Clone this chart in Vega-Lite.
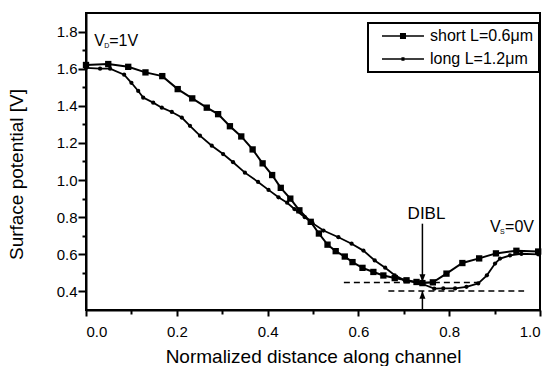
{
  "$schema": "https://vega.github.io/schema/vega-lite/v6.json",
  "width": 454,
  "height": 297,
  "autosize": "none",
  "padding": {"left": 86, "top": 13, "right": 8, "bottom": 56},
  "background": "white",
  "config": {
    "font": "Liberation Sans",
    "view": {"stroke": "black", "strokeWidth": 2},
    "axis": {
      "grid": false,
      "domainColor": "black",
      "domainWidth": 2,
      "tickColor": "black",
      "tickWidth": 2,
      "labelColor": "black",
      "labelFontSize": 15,
      "titleColor": "black",
      "titleFontSize": 19,
      "titleFontWeight": "normal"
    },
    "legend": {"strokeColor": "black", "strokeWidth": 2, "fillColor": "white"}
  },
  "datasets": {
    "curves": [
      {"series": "short L=0.6μm", "x": 0.0, "y": 1.62},
      {"series": "short L=0.6μm", "x": 0.049, "y": 1.625},
      {"series": "short L=0.6μm", "x": 0.093, "y": 1.61},
      {"series": "short L=0.6μm", "x": 0.131, "y": 1.58},
      {"series": "short L=0.6μm", "x": 0.168, "y": 1.56},
      {"series": "short L=0.6μm", "x": 0.202, "y": 1.49},
      {"series": "short L=0.6μm", "x": 0.234, "y": 1.44},
      {"series": "short L=0.6μm", "x": 0.266, "y": 1.39},
      {"series": "short L=0.6μm", "x": 0.291, "y": 1.355},
      {"series": "short L=0.6μm", "x": 0.317, "y": 1.29},
      {"series": "short L=0.6μm", "x": 0.342, "y": 1.235},
      {"series": "short L=0.6μm", "x": 0.367, "y": 1.165},
      {"series": "short L=0.6μm", "x": 0.389, "y": 1.09},
      {"series": "short L=0.6μm", "x": 0.41, "y": 1.027},
      {"series": "short L=0.6μm", "x": 0.429, "y": 0.958},
      {"series": "short L=0.6μm", "x": 0.45, "y": 0.9},
      {"series": "short L=0.6μm", "x": 0.47, "y": 0.837},
      {"series": "short L=0.6μm", "x": 0.495, "y": 0.775},
      {"series": "short L=0.6μm", "x": 0.513, "y": 0.712},
      {"series": "short L=0.6μm", "x": 0.532, "y": 0.652},
      {"series": "short L=0.6μm", "x": 0.55, "y": 0.617},
      {"series": "short L=0.6μm", "x": 0.57, "y": 0.588},
      {"series": "short L=0.6μm", "x": 0.587, "y": 0.558},
      {"series": "short L=0.6μm", "x": 0.609, "y": 0.527},
      {"series": "short L=0.6μm", "x": 0.633, "y": 0.505},
      {"series": "short L=0.6μm", "x": 0.655, "y": 0.486},
      {"series": "short L=0.6μm", "x": 0.68, "y": 0.472},
      {"series": "short L=0.6μm", "x": 0.706, "y": 0.46},
      {"series": "short L=0.6μm", "x": 0.728, "y": 0.451},
      {"series": "short L=0.6μm", "x": 0.741, "y": 0.445},
      {"series": "short L=0.6μm", "x": 0.764, "y": 0.449},
      {"series": "short L=0.6μm", "x": 0.794, "y": 0.496},
      {"series": "short L=0.6μm", "x": 0.829, "y": 0.553},
      {"series": "short L=0.6μm", "x": 0.866, "y": 0.578},
      {"series": "short L=0.6μm", "x": 0.903, "y": 0.605},
      {"series": "short L=0.6μm", "x": 0.948, "y": 0.619},
      {"series": "short L=0.6μm", "x": 0.996, "y": 0.615},
      {"series": "long L=1.2μm", "x": 0.0, "y": 1.604},
      {"series": "long L=1.2μm", "x": 0.031, "y": 1.6},
      {"series": "long L=1.2μm", "x": 0.053, "y": 1.6},
      {"series": "long L=1.2μm", "x": 0.084, "y": 1.568},
      {"series": "long L=1.2μm", "x": 0.1, "y": 1.524},
      {"series": "long L=1.2μm", "x": 0.115, "y": 1.48},
      {"series": "long L=1.2μm", "x": 0.126, "y": 1.444},
      {"series": "long L=1.2μm", "x": 0.148, "y": 1.417},
      {"series": "long L=1.2μm", "x": 0.167, "y": 1.39},
      {"series": "long L=1.2μm", "x": 0.189, "y": 1.367},
      {"series": "long L=1.2μm", "x": 0.211, "y": 1.337},
      {"series": "long L=1.2μm", "x": 0.229, "y": 1.292},
      {"series": "long L=1.2μm", "x": 0.251, "y": 1.239},
      {"series": "long L=1.2μm", "x": 0.277, "y": 1.185},
      {"series": "long L=1.2μm", "x": 0.302, "y": 1.14},
      {"series": "long L=1.2μm", "x": 0.324, "y": 1.096},
      {"series": "long L=1.2μm", "x": 0.35, "y": 1.04},
      {"series": "long L=1.2μm", "x": 0.379, "y": 0.99},
      {"series": "long L=1.2μm", "x": 0.402, "y": 0.947},
      {"series": "long L=1.2μm", "x": 0.424, "y": 0.907},
      {"series": "long L=1.2μm", "x": 0.443, "y": 0.878},
      {"series": "long L=1.2μm", "x": 0.459, "y": 0.844},
      {"series": "long L=1.2μm", "x": 0.482, "y": 0.8},
      {"series": "long L=1.2μm", "x": 0.499, "y": 0.768},
      {"series": "long L=1.2μm", "x": 0.523, "y": 0.728},
      {"series": "long L=1.2μm", "x": 0.556, "y": 0.692},
      {"series": "long L=1.2μm", "x": 0.585, "y": 0.657},
      {"series": "long L=1.2μm", "x": 0.611, "y": 0.62},
      {"series": "long L=1.2μm", "x": 0.636, "y": 0.567},
      {"series": "long L=1.2μm", "x": 0.659, "y": 0.528},
      {"series": "long L=1.2μm", "x": 0.68, "y": 0.487},
      {"series": "long L=1.2μm", "x": 0.702, "y": 0.46},
      {"series": "long L=1.2μm", "x": 0.737, "y": 0.444},
      {"series": "long L=1.2μm", "x": 0.767, "y": 0.415},
      {"series": "long L=1.2μm", "x": 0.787, "y": 0.416},
      {"series": "long L=1.2μm", "x": 0.813, "y": 0.416},
      {"series": "long L=1.2μm", "x": 0.838, "y": 0.425},
      {"series": "long L=1.2μm", "x": 0.864, "y": 0.443},
      {"series": "long L=1.2μm", "x": 0.883, "y": 0.487},
      {"series": "long L=1.2μm", "x": 0.901, "y": 0.55},
      {"series": "long L=1.2μm", "x": 0.912, "y": 0.577},
      {"series": "long L=1.2μm", "x": 0.934, "y": 0.594},
      {"series": "long L=1.2μm", "x": 0.959, "y": 0.603},
      {"series": "long L=1.2μm", "x": 0.996, "y": 0.6}
    ],
    "levels": [
      {"level": "upper", "x": 0.568, "y": 0.448},
      {"level": "upper", "x": 0.866, "y": 0.448},
      {"level": "lower", "x": 0.666, "y": 0.402},
      {"level": "lower", "x": 0.965, "y": 0.402}
    ],
    "arrows": [
      {"arrow": "down", "x": 0.741, "y": 0.765, "y2": 0.451},
      {"arrow": "up", "x": 0.741, "y": 0.3, "y2": 0.402}
    ]
  },
  "layer": [
    {
      "data": {"name": "levels"},
      "mark": {"type": "line", "color": "black", "strokeWidth": 1.5, "strokeDash": [6, 4]},
      "encoding": {
        "x": {"field": "x", "type": "quantitative", "scale": {"domain": [0, 1], "nice": false, "zero": false},
          "axis": {"orient": "bottom", "values": [0.1, 0.3, 0.5, 0.7, 0.9], "labels": false, "domain": false, "tickSize": 4, "title": null}},
        "y": {"field": "y", "type": "quantitative", "scale": {"domain": [0.3, 1.9], "nice": false, "zero": false},
          "axis": {"orient": "left", "values": [0.5, 0.7, 0.9, 1.1, 1.3, 1.5, 1.7], "labels": false, "domain": false, "tickSize": 4, "title": null}},
        "detail": {"field": "level"}
      }
    },
    {
      "data": {"name": "curves"},
      "mark": {"type": "line", "color": "black"},
      "encoding": {
        "x": {"field": "x", "type": "quantitative",
          "axis": {"orient": "bottom", "values": [0, 0.2, 0.4, 0.6, 0.8, 1.0], "format": ".1f", "tickSize": 6, "labelPadding": 8, "titlePadding": 8, "title": "Normalized distance along channel"}},
        "y": {"field": "y", "type": "quantitative",
          "axis": {"orient": "left", "values": [0.4, 0.6, 0.8, 1.0, 1.2, 1.4, 1.6, 1.8], "format": ".1f", "tickSize": 8, "labelPadding": 1, "titlePadding": 30, "titleY": 161, "title": "Surface potential [V]"}},
        "detail": {"field": "series"},
        "strokeWidth": {"field": "series", "scale": {"domain": ["short L=0.6μm", "long L=1.2μm"], "range": [2, 1.8]}, "legend": null}
      }
    },
    {
      "data": {"name": "curves"},
      "mark": {"type": "point", "filled": true, "color": "black", "opacity": 1},
      "encoding": {
        "x": {"field": "x", "type": "quantitative", "axis": null},
        "y": {"field": "y", "type": "quantitative", "axis": null},
        "shape": {"field": "series", "scale": {"domain": ["short L=0.6μm", "long L=1.2μm"], "range": ["square", "circle"]}, "legend": null},
        "size": {"field": "series", "scale": {"domain": ["short L=0.6μm", "long L=1.2μm"], "range": [40, 18]}, "legend": null}
      }
    },
    {
      "data": {"name": "curves"},
      "transform": [{"filter": "datum.x > 2"}],
      "mark": {"type": "point", "filled": true, "color": "black", "opacity": 1},
      "encoding": {
        "x": {"field": "x", "type": "quantitative", "axis": null},
        "y": {"field": "y", "type": "quantitative", "axis": null},
        "shape": {"field": "series",
          "scale": {"domain": ["short L=0.6μm", "long L=1.2μm"], "range": ["M0.14,-0.11H6.14V0.11H0.14ZM2.71,-0.43H3.57V0.43H2.71Z", "M0.14,-0.1H6.14V0.1H0.14ZM2.92,-0.24H3.36V0.24H2.92Z"]},
          "legend": {
            "title": null, "orient": "none", "legendX": 282, "legendY": 10, "padding": 5,
            "labelFontSize": 16, "labelColor": "black", "symbolSize": 196, "labelOffset": 41, "rowPadding": 7,
            "symbolFillColor": "black", "symbolOpacity": 1,
            "strokeColor": "black", "fillColor": "white"
          }}
      }
    },
    {
      "data": {"name": "arrows"},
      "mark": {"type": "rule", "color": "black", "strokeWidth": 1.5},
      "encoding": {
        "x": {"field": "x", "type": "quantitative", "axis": null},
        "y": {"field": "y", "type": "quantitative", "axis": null},
        "y2": {"field": "y2"}
      }
    },
    {
      "data": {"name": "arrows"},
      "transform": [{"filter": "datum.arrow === 'down'"}],
      "mark": {"type": "point", "filled": true, "color": "black", "opacity": 1, "size": 36, "shape": "M-1,-2.6L1,-2.6L0,0Z"},
      "encoding": {
        "x": {"field": "x", "type": "quantitative", "axis": null},
        "y": {"field": "y2", "type": "quantitative", "axis": null}
      }
    },
    {
      "data": {"name": "arrows"},
      "transform": [{"filter": "datum.arrow === 'up'"}],
      "mark": {"type": "point", "filled": true, "color": "black", "opacity": 1, "size": 36, "shape": "M-1,2.6L1,2.6L0,0Z"},
      "encoding": {
        "x": {"field": "x", "type": "quantitative", "axis": null},
        "y": {"field": "y2", "type": "quantitative", "axis": null}
      }
    },
    {
      "data": {"values": [{}]},
      "mark": {"type": "text", "text": "DIBL", "fontSize": 17, "align": "center", "baseline": "alphabetic", "color": "black"},
      "encoding": {
        "x": {"datum": 0.75, "type": "quantitative", "axis": null},
        "y": {"datum": 0.79, "type": "quantitative", "axis": null}
      }
    },
    {
      "data": {"values": [{}]},
      "mark": {"type": "text", "text": "V", "fontSize": 16, "align": "left", "baseline": "alphabetic", "color": "black"},
      "encoding": {
        "x": {"datum": 0.018, "type": "quantitative", "axis": null},
        "y": {"datum": 1.72, "type": "quantitative", "axis": null}
      }
    },
    {
      "data": {"values": [{}]},
      "mark": {"type": "text", "text": "D", "fontSize": 7, "align": "left", "baseline": "alphabetic", "dx": 10, "dy": 2, "color": "black"},
      "encoding": {
        "x": {"datum": 0.018, "type": "quantitative", "axis": null},
        "y": {"datum": 1.72, "type": "quantitative", "axis": null}
      }
    },
    {
      "data": {"values": [{}]},
      "mark": {"type": "text", "text": "=1V", "fontSize": 16, "align": "left", "baseline": "alphabetic", "dx": 15, "color": "black"},
      "encoding": {
        "x": {"datum": 0.018, "type": "quantitative", "axis": null},
        "y": {"datum": 1.72, "type": "quantitative", "axis": null}
      }
    },
    {
      "data": {"values": [{}]},
      "mark": {"type": "text", "text": "V", "fontSize": 16, "align": "left", "baseline": "alphabetic", "color": "black"},
      "encoding": {
        "x": {"datum": 0.89, "type": "quantitative", "axis": null},
        "y": {"datum": 0.719, "type": "quantitative", "axis": null}
      }
    },
    {
      "data": {"values": [{}]},
      "mark": {"type": "text", "text": "S", "fontSize": 7, "align": "left", "baseline": "alphabetic", "dx": 10, "dy": 2, "color": "black"},
      "encoding": {
        "x": {"datum": 0.89, "type": "quantitative", "axis": null},
        "y": {"datum": 0.719, "type": "quantitative", "axis": null}
      }
    },
    {
      "data": {"values": [{}]},
      "mark": {"type": "text", "text": "=0V", "fontSize": 16, "align": "left", "baseline": "alphabetic", "dx": 15, "color": "black"},
      "encoding": {
        "x": {"datum": 0.89, "type": "quantitative", "axis": null},
        "y": {"datum": 0.719, "type": "quantitative", "axis": null}
      }
    }
  ],
  "resolve": {"axis": {"x": "independent", "y": "independent"}, "scale": {"shape": "independent", "size": "independent"}}
}
